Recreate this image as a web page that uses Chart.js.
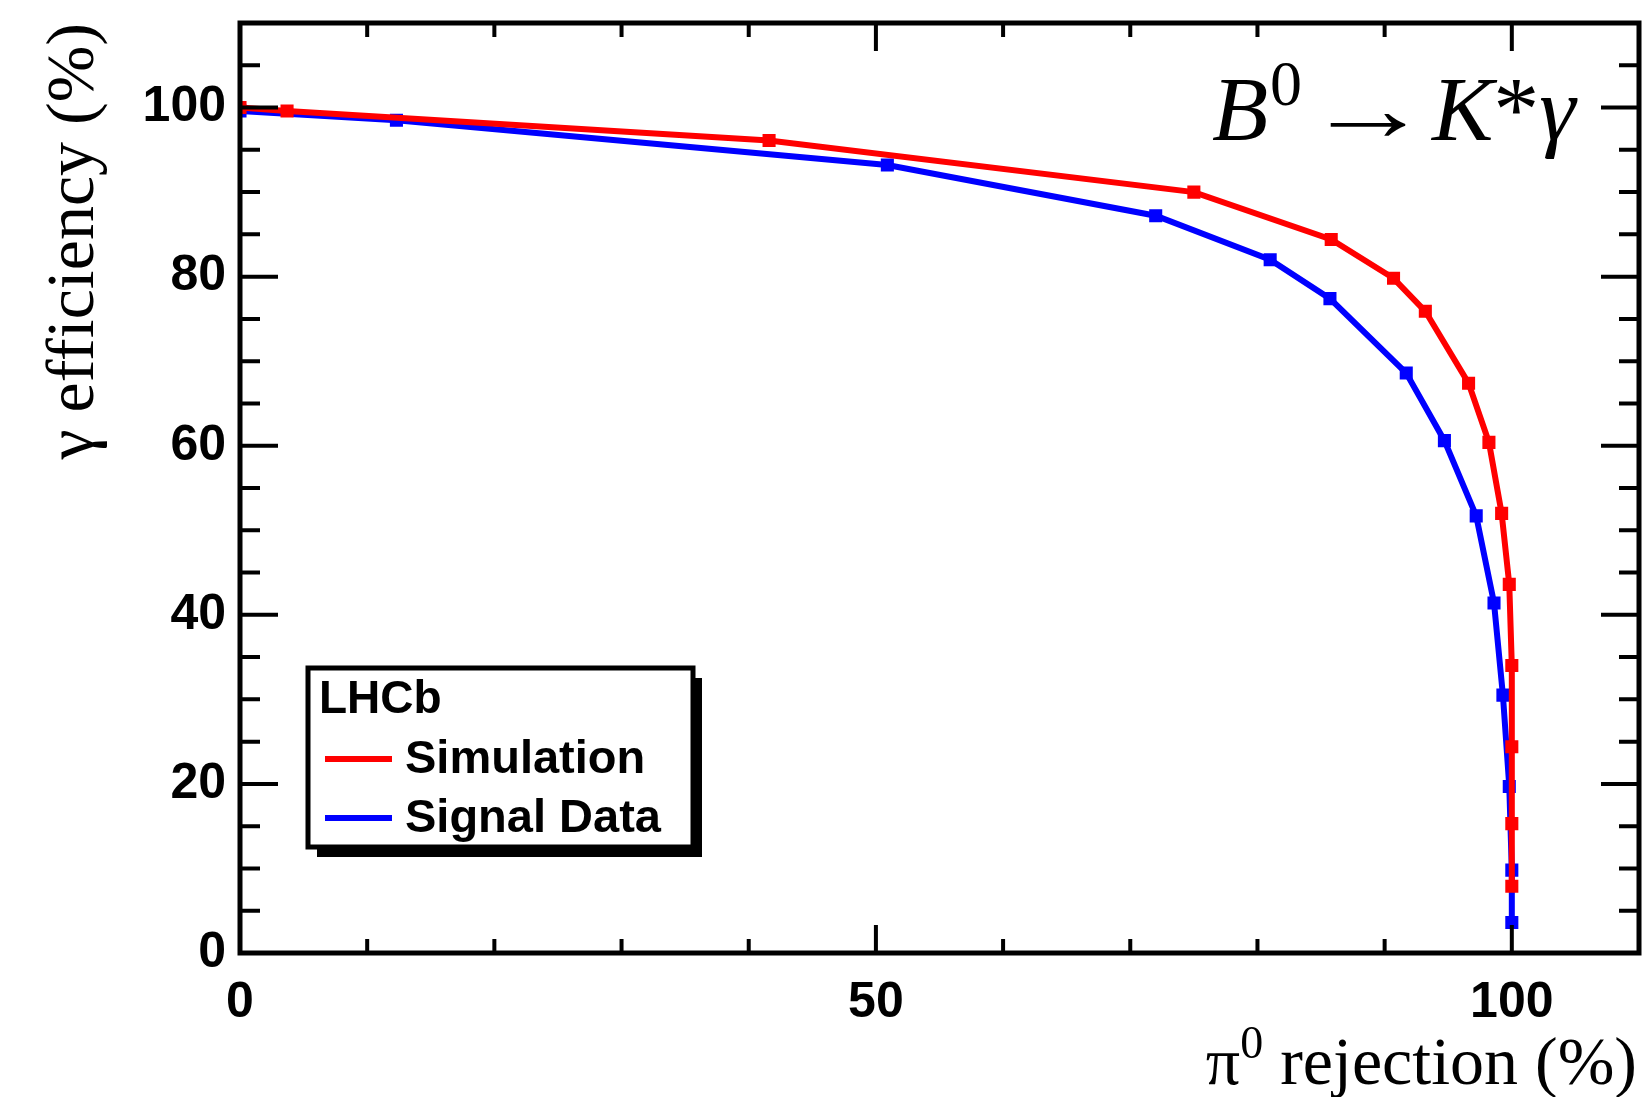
<!DOCTYPE html>
<html>
<head>
<meta charset="utf-8">
<script src="https://cdn.jsdelivr.net/npm/chart.js@4.4.1/dist/chart.umd.min.js"></script>
<style>
  html, body { margin: 0; padding: 0; background: #fff; }
</style>
</head>
<body>
<canvas id="roc" width="1650" height="1097"></canvas>
<script>
// pi0 rejection (%) vs gamma efficiency (%)
const simRejection   = [0, 3.7, 41.6, 75.0, 85.8, 90.7, 93.2, 96.6, 98.2, 99.2, 99.8, 100, 100, 100, 100];
const simEfficiency  = [100, 99.6, 96.1, 90.0, 84.4, 79.8, 75.9, 67.4, 60.4, 52.0, 43.6, 34.0, 24.4, 15.3, 7.9];
const dataRejection  = [0, 12.3, 50.9, 72.0, 81.0, 85.7, 91.7, 94.7, 97.2, 98.6, 99.3, 99.8, 100, 100];
const dataEfficiency = [99.6, 98.5, 93.2, 87.2, 82.0, 77.4, 68.6, 60.6, 51.7, 41.4, 30.5, 19.7, 9.8, 3.6];
const xLabels = [0, 50, 100];
const yLabels = [0, 20, 40, 60, 80, 100];

const toPoints = (xs, ys) => xs.map((v, i) => ({ x: v, y: ys[i] }));

const sansBold = (size) => ({ family: '"Liberation Sans", Arial, sans-serif', size: size, weight: 'bold' });
const serif = '"Liberation Serif", "Times New Roman", serif';

// draw a run of text pieces (for superscripts / italics), left to right
function drawParts(ctx, parts, x, base) {
  let cx = x;
  parts.forEach(p => {
    ctx.font = p.f;
    ctx.fillText(p.t, cx, base + (p.dy || 0));
    cx += ctx.measureText(p.t).width;
  });
}
function partsWidth(ctx, parts) {
  return parts.reduce((w, p) => { ctx.font = p.f; return w + ctx.measureText(p.t).width; }, 0);
}

// ROOT-like frame with ticks on all four sides
const rootFrame = {
  id: 'rootFrame',
  afterDatasetsDraw(chart) {
    const { ctx, chartArea: a, scales: { x, y } } = chart;
    ctx.save();
    ctx.strokeStyle = '#000';
    ctx.lineWidth = 4;
    ctx.beginPath();
    x.ticks.forEach(t => {
      const px = x.getPixelForValue(t.value);
      const len = xLabels.includes(t.value) ? 28 : 14;
      ctx.moveTo(px, a.bottom); ctx.lineTo(px, a.bottom - len);
      ctx.moveTo(px, a.top); ctx.lineTo(px, a.top + len);
    });
    y.ticks.forEach(t => {
      const py = y.getPixelForValue(t.value);
      const len = yLabels.includes(t.value) ? 38 : 20;
      ctx.moveTo(a.left, py); ctx.lineTo(a.left + len, py);
      ctx.moveTo(a.right, py); ctx.lineTo(a.right - len, py);
    });
    ctx.stroke();
    ctx.lineWidth = 5;
    ctx.strokeRect(a.left, a.top, a.right - a.left, a.bottom - a.top);
    ctx.restore();
  }
};

// legend box with shadow, "LHCb" header
const rootLegend = {
  id: 'rootLegend',
  afterDraw(chart) {
    const { ctx } = chart;
    const bx = 308, by = 668, bw = 385, bh = 179;
    ctx.save();
    ctx.fillStyle = '#000';
    ctx.fillRect(bx + 9, by + 10, bw, bh);
    ctx.fillStyle = '#fff';
    ctx.fillRect(bx, by, bw, bh);
    ctx.lineWidth = 5;
    ctx.strokeStyle = '#000';
    ctx.strokeRect(bx, by, bw, bh);
    ctx.fillStyle = '#000';
    ctx.font = 'bold 46px "Liberation Sans", Arial, sans-serif';
    ctx.textBaseline = 'alphabetic';
    ctx.fillText('LHCb', 319, 713);
    chart.data.datasets.forEach((ds, i) => {
      const ly = 759 + i * 59;
      ctx.strokeStyle = ds.borderColor;
      ctx.lineWidth = 6;
      ctx.beginPath();
      ctx.moveTo(325, ly); ctx.lineTo(392, ly);
      ctx.stroke();
      ctx.fillStyle = '#000';
      ctx.font = 'bold 47px "Liberation Sans", Arial, sans-serif';
      ctx.fillText(ds.label, 405, ly + 14);
    });
    ctx.restore();
  }
};

// decay label and x-axis title
const texts = {
  id: 'texts',
  afterDraw(chart) {
    const { ctx, chartArea: a } = chart;
    ctx.save();
    ctx.fillStyle = '#000';
    ctx.textBaseline = 'alphabetic';
    const base = 140;
    ctx.font = 'italic 92px ' + serif;
    ctx.fillText('B', 1212, base);
    ctx.font = '64px ' + serif;
    ctx.fillText('0', 1270, base - 35);
    // stretched arrow
    ctx.font = '92px ' + serif;
    const aw = ctx.measureText('\u2192').width;
    ctx.save();
    ctx.translate(1305, base);
    ctx.scale(126 / aw, 1);
    ctx.fillText('\u2192', 0, 0);
    ctx.restore();
    drawParts(ctx, [
      { t: 'K', f: 'italic 92px ' + serif },
      { t: '*', f: '92px ' + serif },
      { t: '\u03b3', f: 'italic 92px ' + serif }
    ], 1432, base);
    const xt = [
      { t: '\u03c0', f: '68px ' + serif },
      { t: '0', f: '46px ' + serif, dy: -26 },
      { t: ' rejection (%)', f: '68px ' + serif }
    ];
    drawParts(ctx, xt, a.right - 2 - partsWidth(ctx, xt), 1084);
    ctx.restore();
  }
};

new Chart(document.getElementById('roc'), {
  type: 'scatter',
  data: {
    datasets: [
      {
        label: 'Simulation',
        data: toPoints(simRejection, simEfficiency),
        showLine: true,
        borderColor: '#ff0000',
        backgroundColor: '#ff0000',
        borderWidth: 6,
        pointStyle: 'rect',
        pointRadius: 5,
        tension: 0
      },
      {
        label: 'Signal Data',
        data: toPoints(dataRejection, dataEfficiency),
        showLine: true,
        borderColor: '#0000ff',
        backgroundColor: '#0000ff',
        borderWidth: 6,
        pointStyle: 'rect',
        pointRadius: 5,
        tension: 0
      }
    ]
  },
  options: {
    responsive: false,
    animation: false,
    layout: { padding: { top: 23, right: 6, left: 0, bottom: 0 } },
    plugins: {
      legend: { display: false },
      tooltip: { enabled: false }
    },
    scales: {
      x: {
        type: 'linear',
        min: 0,
        max: 110,
        grid: { display: false, drawTicks: false },
        border: { display: false },
        afterFit: s => { s.height = 144; s.paddingLeft = 0; s.paddingRight = 0; },
        ticks: {
          stepSize: 10,
          autoSkip: false,
          maxRotation: 0,
          padding: 20,
          color: '#000',
          font: sansBold(50),
          callback: v => xLabels.includes(v) ? String(v) : ''
        }
      },
      y: {
        type: 'linear',
        min: 0,
        max: 110,
        grid: { display: false, drawTicks: false },
        border: { display: false },
        afterFit: s => { s.width = 240; s.paddingTop = 0; s.paddingBottom = 0; },
        ticks: {
          stepSize: 5,
          autoSkip: false,
          padding: 14,
          color: '#000',
          font: sansBold(50),
          callback: v => yLabels.includes(v) ? String(v) : ''
        },
        title: {
          display: true,
          text: '\u03b3 efficiency (%)',
          align: 'end',
          color: '#000',
          font: { family: serif, size: 68, lineHeight: 1 },
          padding: { top: 41, bottom: 0 }
        }
      }
    }
  },
  plugins: [rootFrame, rootLegend, texts]
});
</script>
</body>
</html>
